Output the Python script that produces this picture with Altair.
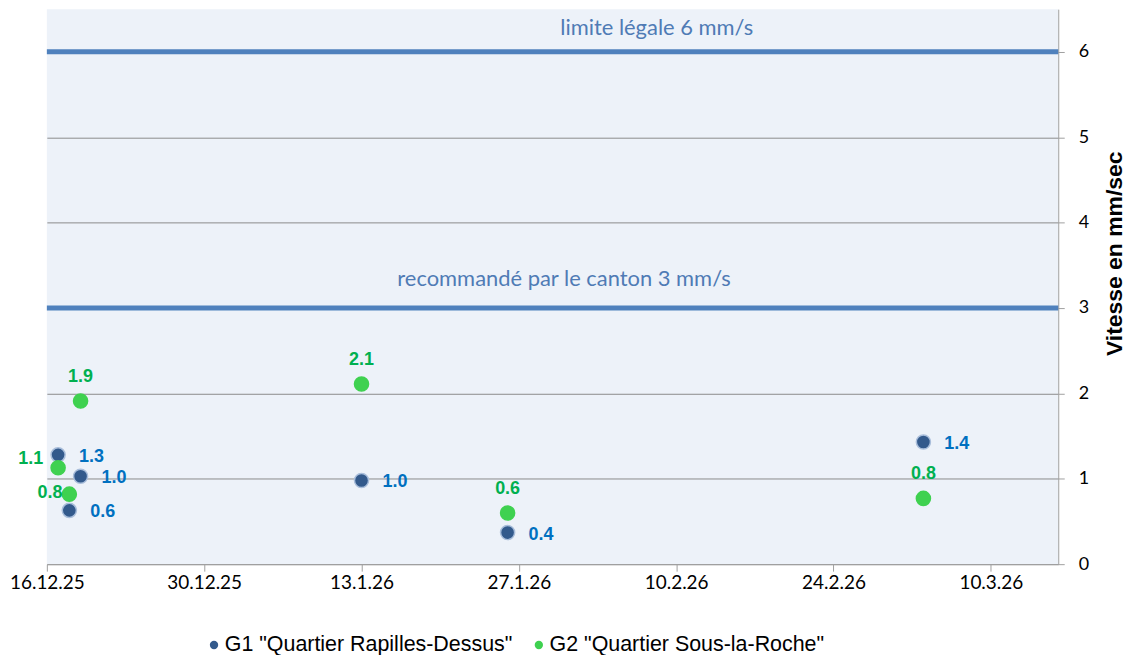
import altair as alt
import pandas as pd

# ---- data ----
dates = ["2025-12-17", "2025-12-19", "2025-12-18", "2026-01-13", "2026-01-26", "2026-03-04"]
g1_vals = [1.28, 1.03, 0.63, 0.98, 0.37, 1.43]
g2_vals = [1.13, 1.91, 0.82, 2.11, 0.60, 0.77]
series = ['G1 "Quartier Rapilles-Dessus"', 'G2 "Quartier Sous-la-Roche"']
colors = ["#335a8c", "#3fd150"]
stroke_colors = ["#a9bedb", "#3fd150"]
label_colors = ["#0070c0", "#00b050"]
tick_dates = [(2025, 12, 16), (2025, 12, 30), (2026, 1, 13), (2026, 1, 27),
              (2026, 2, 10), (2026, 2, 24), (2026, 3, 10)]
limit_vals = [6, 3]
limit_labels = ["limite légale 6 mm/s", "recommandé par le canton 3 mm/s"]

df = pd.DataFrame({
    "date": dates + dates,
    "d": dates + dates,
    "value": g1_vals + g2_vals,
    "series": [series[0]] * len(dates) + [series[1]] * len(dates),
})
limits = pd.DataFrame({"value": limit_vals, "label": limit_labels})


def dt(y, m, d):
    return alt.DateTime(year=y, month=m, date=d, utc=True)


x_enc = alt.X(
    "date:T",
    scale=alt.Scale(type="utc", domain=[dt(2025, 12, 16), dt(2026, 3, 16)]),
    axis=alt.Axis(
        values=[dt(*t) for t in tick_dates],
        labelExpr="utcFormat(datum.value, '%-d.%-m.%y')",
        title=None,
        grid=False,
        labelFont="Lato",
        labelFontSize=19,
        labelColor="#000000",
        labelPadding=2,
        tickSize=7,
        tickColor="#a0a0a0",
        domainColor="#a0a0a0",
        labelFlush=False,
        labelOverlap=False,
    ),
)
y_axis = alt.Axis(
    orient="right",
    values=[0, 1, 2, 3, 4, 5, 6],
    format="d",
    title="Vitesse en mm/sec",
    titleFont="Liberation Sans",
    titleFontSize=23,
    titleFontWeight="bold",
    titleColor="#000000",
    titleAngle=270,
    titleX=56,
    titleY=245,
    titleAlign="center",
    titleBaseline="middle",
    labelFont="Lato",
    labelFontSize=18,
    labelColor="#000000",
    labelPadding=14,
    tickSize=6,
    tickColor="#a0a0a0",
    domainColor="#a0a0a0",
    grid=True,
    gridColor="#8c8c8c",
    gridWidth=1,
    labelFlush=False,
)
y_scale = alt.Scale(domain=[0, 6.5], nice=False, zero=True)
y_enc = alt.Y("value:Q", scale=y_scale, axis=y_axis)

base = alt.Chart(df)

rules = alt.Chart(limits).mark_rule(color="#4f81bd", strokeWidth=5).encode(
    y=y_enc
)

lab6 = alt.Chart(limits).transform_filter("datum.value == 6").mark_text(
    font="Lato", fontSize=22, color="#4f7bb5", align="center", baseline="alphabetic", dy=-17
).encode(x=alt.value(612), y=y_enc, text="label:N")

lab3 = alt.Chart(limits).transform_filter("datum.value == 3").mark_text(
    font="Lato", fontSize=22, color="#4f7bb5", align="center", baseline="alphabetic", dy=-22
).encode(x=alt.value(519), y=y_enc, text="label:N")

points = base.mark_point(filled=True, size=200, opacity=1).encode(
    x=x_enc,
    y=y_enc,
    color=alt.Color(
        "series:N",
        scale=alt.Scale(domain=series, range=colors),
        legend=alt.Legend(
            title=None,
            orient="none",
            legendX=157,
            legendY=627,
            direction="horizontal",
            symbolType="circle",
            symbolSize=70,
            symbolStrokeWidth=0,
            labelFont="Liberation Sans",
            labelFontSize=21.5,
            labelColor="#000000",
            labelOffset=0,
            labelLimit=0,
            columnPadding=15,
            padding=0,
        ),
    ),
    stroke=alt.Stroke("series:N", scale=alt.Scale(domain=series, range=stroke_colors), legend=None),
    strokeWidth=alt.value(1.5),
)

txt_kw = dict(font="Liberation Sans", fontSize=18, fontWeight="bold")

g1_labels = base.transform_filter(alt.datum.series == series[0]).mark_text(
    align="left", baseline="middle", dx=21, dy=2, color=label_colors[0], **txt_kw
).encode(x=x_enc, y=y_enc, text=alt.Text("value:Q", format=".1f"))

g2_above = base.transform_filter(
    (alt.datum.series == series[1]) & (alt.datum.d != "2025-12-17") & (alt.datum.d != "2025-12-18")
).mark_text(
    align="center", baseline="middle", dy=-24, color=label_colors[1], **txt_kw
).encode(x=x_enc, y=y_enc, text=alt.Text("value:Q", format=".1f"))

g2_left_a = base.transform_filter(
    (alt.datum.series == series[1]) & (alt.datum.d == "2025-12-17")
).mark_text(
    align="right", baseline="middle", dx=-15, dy=-9, color=label_colors[1], **txt_kw
).encode(x=x_enc, y=y_enc, text=alt.Text("value:Q", format=".1f"))

g2_left_b = base.transform_filter(
    (alt.datum.series == series[1]) & (alt.datum.d == "2025-12-18")
).mark_text(
    align="right", baseline="middle", dx=-7, dy=-1, color=label_colors[1], **txt_kw
).encode(x=x_enc, y=y_enc, text=alt.Text("value:Q", format=".1f"))

chart = alt.layer(
    rules, lab6, lab3, points, g1_labels, g2_above, g2_left_a, g2_left_b
).properties(
    width=1015,
    height=557,
    autosize=alt.AutoSizeParams(type="none"),
    padding={"left": 39, "top": 0, "right": 68, "bottom": 90},
    background="#ffffff",
).configure_view(
    fill="#edf2f9", strokeWidth=0
)

chart.save("out.html", embed_options={"renderer": "svg", "actions": False})
